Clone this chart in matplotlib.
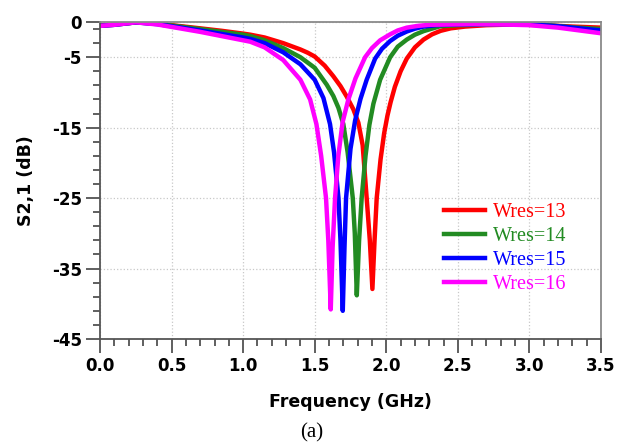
import matplotlib
matplotlib.use("Agg")
import matplotlib.pyplot as plt
import numpy as np

# S21 traces (frequency in GHz, magnitude in dB)
f_w13 = [0.0, 0.1, 0.25, 0.4, 0.5, 0.7, 0.85, 1.0, 1.05, 1.15, 1.28, 1.4, 1.45, 1.5, 1.57, 1.63, 1.68,
         1.724, 1.77, 1.805, 1.835, 1.863, 1.885, 1.903, 1.918, 1.933, 1.96, 1.985, 2.008, 2.03,
         2.06, 2.1, 2.143, 2.2, 2.26, 2.32, 2.38, 2.45, 2.55, 2.7, 2.9, 3.1, 3.3, 3.5]
s_w13 = [-0.5, -0.35, -0.05, -0.2, -0.45, -0.9, -1.25, -1.65, -1.8, -2.2, -3.0, -3.9, -4.35, -4.9, -6.2, -7.7, -9.1,
         -10.6, -12.4, -14.3, -17.5, -25.0, -31.0, -37.9, -31.0, -25.0, -19.5, -15.8, -13.3, -11.4,
         -9.2, -7.0, -5.2, -3.6, -2.5, -1.75, -1.25, -0.9, -0.65, -0.45, -0.35, -0.45, -0.65, -0.8]

f_w14 = [0.0, 0.1, 0.25, 0.4, 0.5, 0.7, 0.85, 1.0, 1.05, 1.15, 1.28, 1.4, 1.5, 1.584, 1.63, 1.666,
         1.7, 1.73, 1.766, 1.78, 1.794, 1.81, 1.828, 1.855, 1.882, 1.91, 1.957, 2.027, 2.08, 2.143,
         2.2, 2.26, 2.376, 2.5, 2.7, 2.9, 3.1, 3.3, 3.5]
s_w14 = [-0.55, -0.4, -0.05, -0.25, -0.5, -1.0, -1.4, -1.8, -2.0, -2.6, -3.7, -5.0, -6.5, -8.9, -10.5, -12.2,
         -14.5, -18.5, -25.0, -30.0, -38.8, -31.0, -25.0, -19.0, -14.6, -11.6, -8.2, -5.0, -3.5, -2.5,
         -1.8, -1.3, -0.6, -0.45, -0.35, -0.3, -0.4, -0.75, -1.0]

f_w15 = [0.0, 0.1, 0.25, 0.4, 0.5, 0.7, 0.85, 1.0, 1.05, 1.15, 1.28, 1.4, 1.5, 1.561, 1.607, 1.635,
         1.666, 1.68, 1.696, 1.708, 1.719, 1.75, 1.782, 1.82, 1.863, 1.922, 1.97, 2.027, 2.08, 2.143,
         2.2, 2.26, 2.35, 2.5, 2.7, 2.9, 3.05, 3.2, 3.35, 3.5]
s_w15 = [-0.55, -0.4, -0.05, -0.3, -0.6, -1.2, -1.7, -2.2, -2.4, -3.0, -4.3, -6.0, -8.2, -10.8, -14.5, -18.5,
         -25.0, -31.0, -41.0, -32.0, -25.0, -18.0, -14.0, -10.9, -8.2, -5.2, -3.8, -2.7, -1.95, -1.35,
         -0.95, -0.65, -0.45, -0.35, -0.3, -0.3, -0.4, -0.6, -0.9, -1.2]

f_w16 = [0.0, 0.1, 0.25, 0.4, 0.5, 0.7, 0.85, 1.0, 1.05, 1.15, 1.28, 1.4, 1.468, 1.512, 1.545, 1.579,
         1.595, 1.612, 1.625, 1.642, 1.665, 1.695, 1.735, 1.785, 1.852, 1.9, 1.957, 2.027, 2.08,
         2.143, 2.22, 2.3, 2.45, 2.6, 2.8, 3.0, 3.2, 3.35, 3.5]
s_w16 = [-0.55, -0.4, -0.05, -0.35, -0.7, -1.4, -2.0, -2.6, -2.8, -3.6, -5.4, -8.2, -11.0, -14.5, -19.0, -25.0,
         -31.0, -40.8, -32.0, -25.0, -19.0, -14.2, -11.0, -8.0, -5.0, -3.7, -2.6, -1.75, -1.2,
         -0.8, -0.55, -0.4, -0.35, -0.3, -0.35, -0.45, -0.8, -1.2, -1.6]

labels = ["Wres=13", "Wres=14", "Wres=15", "Wres=16"]
colors = ["#ff0000", "#228b22", "#0000ff", "#ff00ff"]

y_major = [0, -5, -15, -25, -35, -45]
y_minor = [-1, -3, -7, -9, -11, -13, -17, -19, -21, -23, -27, -29, -31, -33, -37, -39, -41, -43]

fig = plt.figure(figsize=(6.3, 4.48), dpi=100)
ax = fig.add_axes([100 / 630, 1 - 339 / 448, 501 / 630, 317 / 448])

for f, s, lab, c in zip([f_w13, f_w14, f_w15, f_w16], [s_w13, s_w14, s_w15, s_w16], labels, colors):
    ax.plot(f, s, color=c, lw=3.2, label=lab, solid_joinstyle="round")

ax.set_xlim(0, 3.5)
ax.set_ylim(-45, 0)
ax.set_xticks(np.arange(0, 3.51, 0.5))
ax.set_xticks(np.arange(0, 3.51, 0.1), minor=True)
ax.set_yticks(y_major)
ax.set_yticks(y_minor, minor=True)
ax.set_xticklabels(["%.1f" % v for v in np.arange(0, 3.51, 0.5)])
ax.set_yticklabels([str(v) for v in y_major])

ax.grid(True, which="major", ls=":", color="#c8c8c8", lw=0.9)
ax.tick_params(which="major", direction="out", length=10, width=1.2, color="#444444", pad=3)
ax.tick_params(which="minor", direction="out", length=5, width=1.2, color="#444444")
ax.tick_params(top=False, right=False, which="both")
for lbl in ax.get_xticklabels() + ax.get_yticklabels():
    lbl.set_fontweight("bold")
    lbl.set_fontsize(12)

for side in ["left", "bottom"]:
    ax.spines[side].set_color("#555555")
    ax.spines[side].set_linewidth(1.3)
for side in ["top", "right"]:
    ax.spines[side].set_color("#8a8a8a")
    ax.spines[side].set_linewidth(1.3)

ax.set_xlabel("Frequency (GHz)", fontsize=12.5, fontweight="bold", labelpad=13)
ax.set_ylabel("S2,1 (dB)", fontsize=12.5, fontweight="bold", labelpad=12)

leg = ax.legend(loc="upper left", bbox_to_anchor=(444 / 630, 1 - 203 / 448),
                bbox_transform=fig.transFigure, frameon=False, borderpad=0, borderaxespad=0,
                handlelength=2.05, handletextpad=0.4, labelspacing=0.25,
                prop={"family": "Liberation Serif", "size": 14.5}, labelcolor="linecolor")
for ln in leg.get_lines():
    ln.set_linewidth(3.2)

fig.text(312 / 630, 1 - 433 / 448, "(a)", family="Liberation Serif", fontsize=15,
         ha="center", va="center")

fig.savefig("out.png", dpi=100)
